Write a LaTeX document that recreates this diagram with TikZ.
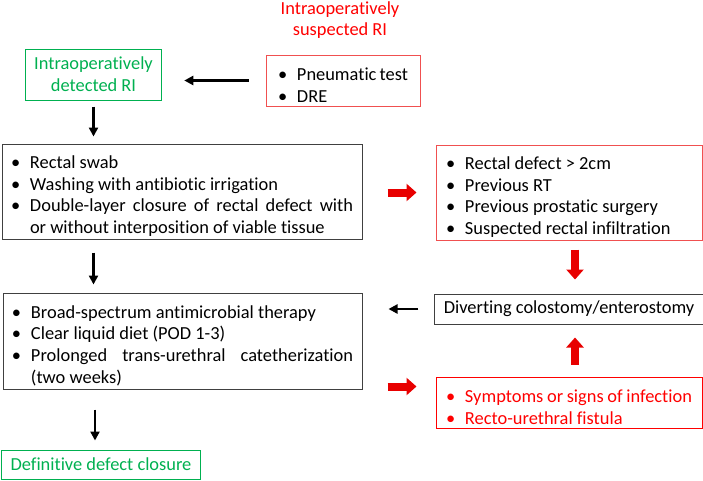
\documentclass[tikz,border=0pt]{standalone}
\usepackage{fontspec}
\setmainfont{Carlito}[Ligatures=NoCommon]
\usepackage{tikz}
\usetikzlibrary{arrows.meta}
\definecolor{txtgreen}{RGB}{0,176,80}
\definecolor{txtred}{RGB}{255,0,0}
\definecolor{boxred}{RGB}{240,80,80}
\definecolor{arrowred}{RGB}{232,0,0}
\newcommand{\bul}{\par\leavevmode\llap{\makebox[19pt][l]{\textbullet}}\ignorespaces}
\tikzset{
    every node/.style={font=\fontsize{18.4}{21.7}\selectfont},
    blackbox/.style={draw=black!75, line width=1pt, inner xsep=9pt, inner ysep=2pt},
    redbox/.style={draw=boxred, line width=1pt, inner xsep=10pt, inner ysep=2pt},
    bulletlist/.style={execute at begin node={\leftskip=19pt\spaceskip=0pt\xspaceskip=0pt\hyphenpenalty=10000\relax}},
    blackarrow/.style={line width=2.3pt, -{Triangle[length=9pt,width=9pt]}},
    redarrow/.style={draw=arrowred, line width=8pt, -{Triangle[length=10pt,width=17pt]}}
}

\begin{document}
\begin{tikzpicture}[x=1pt, y=-1pt]
    \useasboundingbox (0, 0) rectangle (703, 480);

    \node[txtred, align=center] (susp) at (340, 20) {Intraoperatively\\suspected RI};
    \node[redbox, bulletlist, inner xsep=12pt, text width=130pt, minimum height=51pt, align=left] (pneu) at (343, 80.5)
        {\bul Pneumatic test\bul DRE};
    \node[blackbox, txtgreen, align=center, minimum width=133pt, minimum height=51pt] (det) at (93.5, 74.5)
        {Intraoperatively\\detected RI};

    \node[blackbox, bulletlist, text width=342pt, minimum height=95pt, align=justify] (swab) at (182, 191.5)
        {\bul Rectal swab\bul Washing with antibiotic irrigation\bul Double-layer closure of rectal defect with\linebreak or without interposition of viable tissue};
    \node[redbox, bulletlist, text width=246pt, minimum height=95pt, align=left] (risk) at (569, 192.5)
        {\bul Rectal defect > 2cm\bul Previous RT\bul Previous prostatic surgery\bul Suspected rectal infiltration};

    \node[blackbox, minimum width=266pt, minimum height=30pt] (div) at (569, 309) {Diverting colostomy/enterostomy};

    \node[blackbox, bulletlist, text width=341pt, minimum height=96pt, align=justify] (care) at (182.5, 341)
        {\bul Broad-spectrum antimicrobial therapy\bul Clear liquid diet (POD 1-3)\bul Prolonged trans-urethral catetherization (two weeks)};
    \node[redbox, bulletlist, txtred, text width=246pt, minimum height=51pt, align=left] (infect) at (569, 402.5)
        {\bul Symptoms or signs of infection\bul Recto-urethral fistula};

    \node[blackbox, txtgreen, minimum width=196pt, minimum height=29pt] (def) at (101, 464.5) {Definitive defect closure};

    \draw[blackarrow, shorten <=17pt, shorten >=22pt] (pneu.west) -- (pneu.west -| det.east);
    \draw[blackarrow, shorten <=6pt, shorten >=7pt] (det.south) -- (det.south |- swab.north);
    \draw[blackarrow, shorten <=13pt, shorten >=8pt] (det.south |- swab.south) -- (det.south |- care.north);
    \draw[blackarrow, shorten <=20pt, shorten >=9pt] ([xshift=-6pt]def.north |- care.south) -- ([xshift=-6pt]def.north);
    \draw[blackarrow, shorten <=16pt, shorten >=26pt] (div.west) -- (div.west -| care.east);

    \draw[redarrow, shorten <=25pt, shorten >=19pt] (risk.west -| swab.east) -- (risk.west);
    \draw[redarrow, shorten <=9pt, shorten >=14pt] ([xshift=6pt]risk.south) -- ([xshift=6pt]div.north);
    \draw[redarrow, shorten <=12pt, shorten >=13pt] ([xshift=6pt]infect.north) -- ([xshift=6pt]div.south);
    \draw[redarrow, shorten <=25pt, shorten >=19pt] ([yshift=16pt]infect.west -| care.east) -- ([yshift=16pt]infect.west);
\end{tikzpicture}
\end{document}
